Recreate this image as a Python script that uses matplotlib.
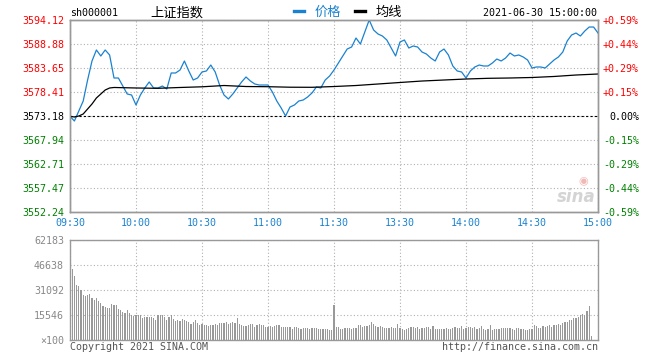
import numpy as np
import matplotlib
matplotlib.use("Agg")
import matplotlib.pyplot as plt
from matplotlib.lines import Line2D

W, H = 660, 360

PRE_CLOSE = 3573.18

# price sampled every 2 minutes, 09:30 -> 11:30 | 13:00 -> 15:00 (240 trading minutes)
price = [
    3573.11, 3572.09, 3574.27, 3576.45, 3581.03, 3585.18, 3587.58, 3586.27, 3587.58, 3586.49,
    3581.47, 3581.47, 3579.72, 3577.98, 3577.76, 3575.58, 3577.76, 3579.29, 3580.60, 3579.29,
    3579.29, 3579.72, 3579.07, 3582.56, 3582.56, 3583.21, 3585.18, 3583.00, 3581.03, 3581.47,
    3582.78, 3583.00, 3584.30, 3582.78, 3579.94, 3577.76, 3576.89, 3577.98, 3579.29, 3580.60,
    3581.69, 3580.81, 3580.16, 3579.94, 3579.94, 3579.94, 3578.41, 3576.45, 3574.92, 3573.18,
    3575.14, 3575.58, 3576.45, 3576.67, 3577.32, 3578.20, 3579.51, 3579.29, 3581.03, 3581.90,
    3583.21, 3584.74, 3586.27, 3587.79, 3588.23, 3590.19, 3588.88, 3591.50, 3594.12, 3591.94,
    3591.07, 3590.63, 3589.76, 3588.01, 3586.27, 3589.32, 3589.76, 3588.01, 3588.45, 3588.23,
    3587.14, 3586.70, 3585.83, 3585.18, 3587.14, 3587.79, 3586.49, 3584.09, 3583.00, 3582.78,
    3581.47, 3583.00, 3583.87, 3584.30, 3584.09, 3584.09, 3584.74, 3585.61, 3585.18, 3585.83,
    3586.92, 3586.27, 3586.49, 3586.05, 3585.39, 3583.65, 3583.87, 3583.87, 3583.65, 3584.52,
    3585.39, 3586.05, 3587.14, 3589.54, 3590.85, 3591.28, 3590.63, 3591.72, 3592.59, 3592.59,
    3591.28,
]

avg_minutes = [0, 2, 4, 6, 8, 10, 12, 14, 16, 18, 20, 30, 40, 50, 60, 70, 80, 90, 100, 110,
               120, 130, 140, 150, 160, 170, 180, 190, 200, 210, 220, 230, 240]
avg_price = [3573.11, 3572.96, 3573.18, 3573.62, 3574.71, 3575.80, 3577.11, 3577.98, 3578.85, 3579.29,
             3579.40, 3579.29, 3579.22, 3579.40, 3579.55, 3579.83, 3579.61, 3579.57, 3579.46, 3579.44,
             3579.61, 3579.83, 3580.16, 3580.49, 3580.81, 3581.03, 3581.25, 3581.40, 3581.47, 3581.58,
             3581.80, 3582.12, 3582.34]

# volume per minute (x100)
volume = [
    62183, 44200, 39800, 34200, 33400, 31000, 28000, 27500, 28000, 28600,
    26300, 24900, 26100, 24500, 23200, 21300, 20800, 20200, 19700, 22400,
    21500, 22000, 19000, 18600, 17600, 17000, 18600, 16500, 15800, 15200,
    15500, 15300, 15300, 13700, 14500, 14100, 14500, 14100, 13700, 12400,
    15300, 15300, 15300, 14000, 12400, 14100, 15300, 13100, 12000, 12400,
    11600, 13100, 12600, 12000, 11200, 9950, 11200, 12400, 10800, 9500,
    9800, 9500, 9500, 8700, 9100, 9100, 9950, 9500, 10400, 10800,
    10400, 11200, 9950, 10800, 11200, 10400, 13700, 9950, 9100, 8700,
    8700,
    9300, 9700, 9950, 7900, 9100, 9950, 9100, 9100, 8300, 7900,
    8700, 8300, 8700, 9100, 9100, 7900, 8100, 8100, 8100, 7900,
    7000, 7900, 7900, 7200, 7000, 7500, 7500, 7500, 7000, 7500,
    7500, 7500, 6800, 6800, 6800, 6800, 6800, 6200, 6500,
    21800,
    7900, 7900, 7000, 6600, 7500, 7500, 7500, 7000, 7500, 7500,
    9100, 9100, 7900, 8700, 8700, 9100, 11200, 9950, 8700, 7900,
    8700, 7900, 7500, 7500, 7500, 7900, 7500, 7500, 9950, 7500,
    7000, 6500, 7000, 7500, 7900, 8300, 7500, 7900, 7000, 7500,
    7500, 8300, 7900, 7000, 8700, 7000, 7000, 7000, 6600, 7000,
    7500, 7000, 7000, 7500, 7900, 7500, 7500, 8700, 7000, 7500,
    7900, 7900, 7500, 8300, 7000, 7500, 8700, 7000, 6200, 7000,
    9100, 6200, 6600, 6600, 7000, 7500, 7500, 7500, 7500, 7500,
    7000, 6200, 7500, 7500, 7000, 6600, 6200, 6200, 7000, 7000,
    9100, 8700, 7500, 7500, 8700, 8300, 8700, 9100, 8300, 9500,
    9100, 9950, 9100, 10400, 11200, 11000, 12400, 12200, 13700, 13700,
    14500, 15800, 16200, 15300, 18200, 21100,
    2700, 0, 0, 0,
]

price_ticks = [3552.24, 3557.47, 3562.71, 3567.94, 3573.18, 3578.41, 3583.65, 3588.88, 3594.12]
vol_ticks = [0, 15546, 31092, 46638, 62183]
time_labels = ["09:30", "10:00", "10:30", "11:00", "11:30", "13:30", "14:00", "14:30", "15:00"]

BLUE = "#1a82d0"
RED = "#ff0000"
GREEN = "#008000"
GRID = "#b0b0b0"
FRAME = "#999999"
MONO = ["DejaVu Sans Mono"]
CJK = ["Noto Sans CJK SC", "DejaVu Sans"]
FS = 7.2


def side_color(v):
    if v > PRE_CLOSE + 1e-6:
        return RED
    if v < PRE_CLOSE - 1e-6:
        return GREEN
    return "black"


def pct_label(v):
    p = (v - PRE_CLOSE) / PRE_CLOSE * 100
    if abs(p) < 0.005:
        return "0.00%"
    return f"{p:+.2f}%"


fig = plt.figure(figsize=(W / 100, H / 100), dpi=100)
ax = fig.add_axes([70 / W, 1 - 212 / H, 528 / W, 192 / H])
axv = fig.add_axes([70 / W, 1 - 340 / H, 528 / W, 100 / H])

# ---- price panel
x_price = np.linspace(0, 240, len(price))
ax.plot(x_price, price, color=BLUE, lw=0.9, zorder=3)
ax.plot(avg_minutes, avg_price, color="black", lw=0.9, zorder=3)
ax.axhline(PRE_CLOSE, color="black", lw=0.8, ls=(0, (2, 2)), zorder=2)
ax.set_xlim(0, 240)
ax.set_ylim(price_ticks[0], price_ticks[-1])
ax.set_xticks(np.arange(0, 241, 30), labels=time_labels)
ax.set_yticks(price_ticks, labels=[f"{v:.2f}" for v in price_ticks])
ax.grid(True, color=GRID, linestyle=(0, (1, 2)), linewidth=0.8, zorder=1)
ax.tick_params(axis="both", length=0, labelsize=FS)
ax.tick_params(axis="y", pad=4.3)
ax.tick_params(axis="x", pad=4, labelcolor=BLUE)
for lbl, v in zip(ax.get_yticklabels(), price_ticks):
    lbl.set_color(side_color(v))
for lbl in ax.get_xticklabels() + ax.get_yticklabels():
    lbl.set_fontfamily(MONO)

ax2 = ax.twinx()
ax2.set_ylim(ax.get_ylim())
ax2.set_yticks(price_ticks, labels=[pct_label(v) for v in price_ticks])
ax2.tick_params(axis="y", length=0, labelsize=FS, pad=29.5)
for lbl, v in zip(ax2.get_yticklabels(), price_ticks):
    lbl.set_color(side_color(v))
    lbl.set_ha("right")
    lbl.set_fontfamily(MONO)

for a in (ax, ax2, axv):
    for s in a.spines.values():
        s.set_color(FRAME)
        s.set_linewidth(1.0)

# sina watermark
ax.text(0.995, 0.03, "sina", transform=ax.transAxes, ha="right", va="bottom",
        fontsize=12, fontweight="bold", style="italic", color="#d4d4d4", zorder=0)
ax.text(0.972, 0.135, "\u25c9", transform=ax.transAxes, ha="center", va="bottom",
        fontsize=8, color="#f2b8b8", zorder=0)

# ---- volume panel
axv.bar(np.arange(len(volume)), volume, width=0.5, color="#999999", linewidth=0,
        antialiased=False, zorder=2)
axv.set_xlim(0, 240)
axv.set_ylim(0, vol_ticks[-1])
axv.set_xticks(np.arange(0, 241, 30), labels=[])
axv.set_yticks(vol_ticks, labels=["\u00d7100"] + [str(v) for v in vol_ticks[1:]])
axv.grid(True, color=GRID, linestyle=(0, (1, 2)), linewidth=0.8, zorder=1)
axv.tick_params(axis="both", length=0, labelsize=FS, pad=4.3, labelcolor="#888888")
for lbl in axv.get_yticklabels():
    lbl.set_fontfamily(MONO)

# ---- header
fig.text(70 / W, 1 - 13 / H, "sh000001", fontsize=FS, family=MONO, va="center")
fig.text(150 / W, 1 - 13 / H, "上证指数", fontsize=9.5, family=CJK, va="center")
fig.text(597 / W, 1 - 13 / H, "2021-06-30 15:00:00", fontsize=FS, family=MONO,
         va="center", ha="right")
handles = [Line2D([], [], color=BLUE, lw=2.4), Line2D([], [], color="black", lw=2.4)]
leg = fig.legend(handles, ["价格", "均线"], loc="center", bbox_to_anchor=(348 / W, 1 - 12 / H),
                 ncol=2, frameon=False, prop={"family": CJK, "size": 9.5},
                 handlelength=0.8, handletextpad=0.8, columnspacing=1.0,
                 borderpad=0, borderaxespad=0)
leg.get_texts()[0].set_color(BLUE)

# ---- footer
fig.text(70 / W, 1 - 347 / H, "Copyright 2021 SINA.COM", fontsize=FS, family=MONO,
         va="center", color="#555555")
fig.text(598 / W, 1 - 347 / H, "http://finance.sina.com.cn", fontsize=FS, family=MONO,
         va="center", ha="right", color="#555555")

fig.savefig("out.png", dpi=100)
